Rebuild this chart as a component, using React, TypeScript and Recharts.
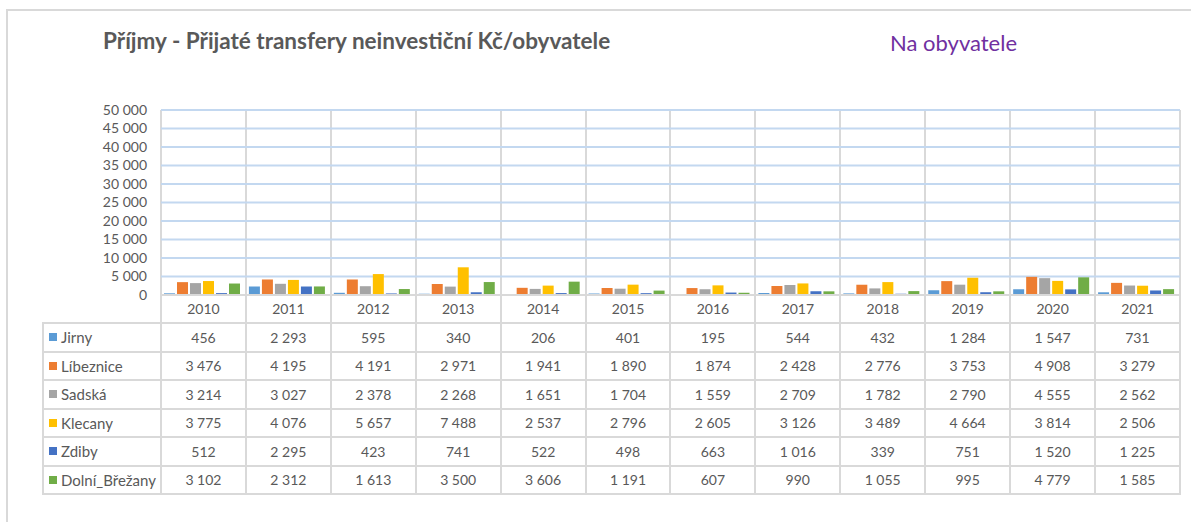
import { Bar, BarChart, CartesianGrid, XAxis, YAxis } from "recharts";

const YEARS = ["2010", "2011", "2012", "2013", "2014", "2015", "2016", "2017", "2018", "2019", "2020", "2021"];
const JIRNY = [456, 2293, 595, 340, 206, 401, 195, 544, 432, 1284, 1547, 731];
const LIBEZNICE = [3476, 4195, 4191, 2971, 1941, 1890, 1874, 2428, 2776, 3753, 4908, 3279];
const SADSKA = [3214, 3027, 2378, 2268, 1651, 1704, 1559, 2709, 1782, 2790, 4555, 2562];
const KLECANY = [3775, 4076, 5657, 7488, 2537, 2796, 2605, 3126, 3489, 4664, 3814, 2506];
const ZDIBY = [512, 2295, 423, 741, 522, 498, 663, 1016, 339, 751, 1520, 1225];
const DOLNI_BREZANY = [3102, 2312, 1613, 3500, 3606, 1191, 607, 990, 1055, 995, 4779, 1585];
const Y_TICKS = [0, 5000, 10000, 15000, 20000, 25000, 30000, 35000, 40000, 45000, 50000];

const SERIES = [
  { key: "jirny", name: "Jirny", values: JIRNY, color: "#5b9bd5" },
  { key: "libeznice", name: "Líbeznice", values: LIBEZNICE, color: "#ed7d31" },
  { key: "sadska", name: "Sadská", values: SADSKA, color: "#a5a5a5" },
  { key: "klecany", name: "Klecany", values: KLECANY, color: "#ffc000" },
  { key: "zdiby", name: "Zdiby", values: ZDIBY, color: "#4472c4" },
  { key: "dolni", name: "Dolní_Břežany", values: DOLNI_BREZANY, color: "#70ad47" },
];

const W = 1191;
const H = 522;
const PLOT_LEFT = 161;
const PLOT_RIGHT = 1180;
const PLOT_TOP = 110;
const PLOT_BOTTOM = 295;
const COL_W = (PLOT_RIGHT - PLOT_LEFT) / YEARS.length;
const TABLE_TOP = 322;
const ROW_H = 28.5;
const LABEL_LEFT = 42;
const LINE = "#d9d9d9";
const GRID = "#c3d8f0";
const TEXT = "#595959";
const FONT = "Lato, 'Open Sans', sans-serif";

const fmt = (n: number) => String(n).replace(/\B(?=(\d{3})+(?!\d))/g, " ");

const rows = YEARS.map((year, i) => {
  const row: Record<string, string | number> = { year };
  SERIES.forEach((s) => (row[s.key] = s.values[i]));
  return row;
});

export default function App() {
  return (
    <div style={{ position: "relative", width: W, height: H, background: "#fff", fontFamily: FONT, overflow: "hidden" }}>
      <style>{`body{margin:0}`}</style>
      {/* outer chart frame, runs off the right and bottom edges */}
      <div style={{ position: "absolute", left: 6, top: 9, width: 1300, height: 700, border: `2px solid ${LINE}` }} />
      <div style={{ position: "absolute", left: 103, top: 27, fontSize: 22.5, fontWeight: 700, color: TEXT }}>
        Příjmy - Přijaté transfery neinvestiční Kč/obyvatele
      </div>
      <div style={{ position: "absolute", left: 890, top: 29, fontSize: 22, color: "#7030a0" }}>Na obyvatele</div>

      {/* column lines through plot area and year header */}
      <div
        style={{
          position: "absolute",
          left: PLOT_LEFT - 1,
          top: PLOT_TOP,
          height: TABLE_TOP - PLOT_TOP,
          display: "flex",
          borderRight: `2px solid ${LINE}`,
        }}
      >
        {YEARS.map((y) => (
          <div key={y} style={{ width: COL_W, boxSizing: "border-box", borderLeft: `2px solid ${LINE}` }} />
        ))}
      </div>

      {/* data table */}
      <div
        style={{
          position: "absolute",
          left: LABEL_LEFT,
          top: TABLE_TOP,
          display: "grid",
          gridTemplateColumns: `${PLOT_LEFT - 1 - LABEL_LEFT}px repeat(${YEARS.length}, ${COL_W}px)`,
          gridAutoRows: ROW_H,
          borderRight: `2px solid ${LINE}`,
          borderBottom: `2px solid ${LINE}`,
          fontSize: 14,
          color: TEXT,
        }}
      >
        {SERIES.map((s) => [
          <div
            key={s.key}
            style={{
              boxSizing: "border-box",
              borderLeft: `2px solid ${LINE}`,
              borderTop: `2px solid ${LINE}`,
              display: "flex",
              alignItems: "center",
              paddingLeft: 5,
              whiteSpace: "nowrap",
              fontSize: 15,
            }}
          >
            <span style={{ width: 8, height: 8, background: s.color, marginRight: 4 }} />
            {s.name}
          </div>,
          ...s.values.map((v, i) => (
            <div
              key={s.key + i}
              style={{
                boxSizing: "border-box",
                borderLeft: `2px solid ${LINE}`,
                borderTop: `2px solid ${LINE}`,
                display: "flex",
                alignItems: "center",
                justifyContent: "center",
              }}
            >
              {fmt(v)}
            </div>
          )),
        ])}
      </div>

      <div style={{ position: "absolute", left: 0, top: 0 }}>
        <BarChart
          width={W}
          height={H}
          data={rows}
          margin={{ top: PLOT_TOP, right: W - PLOT_RIGHT, bottom: 0, left: 0 }}
          barCategoryGap={3}
          barGap={2}
        >
          <CartesianGrid vertical={false} stroke={GRID} strokeWidth={2} />
          <YAxis
            width={PLOT_LEFT}
            domain={[0, 50000]}
            ticks={Y_TICKS}
            interval={0}
            tickFormatter={fmt}
            axisLine={false}
            tickLine={false}
            tickSize={0}
            tickMargin={14}
            tick={{ fill: TEXT, fontSize: 14, fontFamily: FONT }}
          />
          <XAxis
            dataKey="year"
            height={H - PLOT_BOTTOM}
            interval={0}
            axisLine={{ stroke: LINE, strokeWidth: 2 }}
            tickLine={false}
            tickSize={0}
            tickMargin={9}
            tick={{ fill: TEXT, fontSize: 14, fontFamily: FONT }}
          />
          {SERIES.map((s) => (
            <Bar key={s.key} dataKey={s.key} name={s.name} fill={s.color} isAnimationActive={false} />
          ))}
        </BarChart>
      </div>
    </div>
  );
}
